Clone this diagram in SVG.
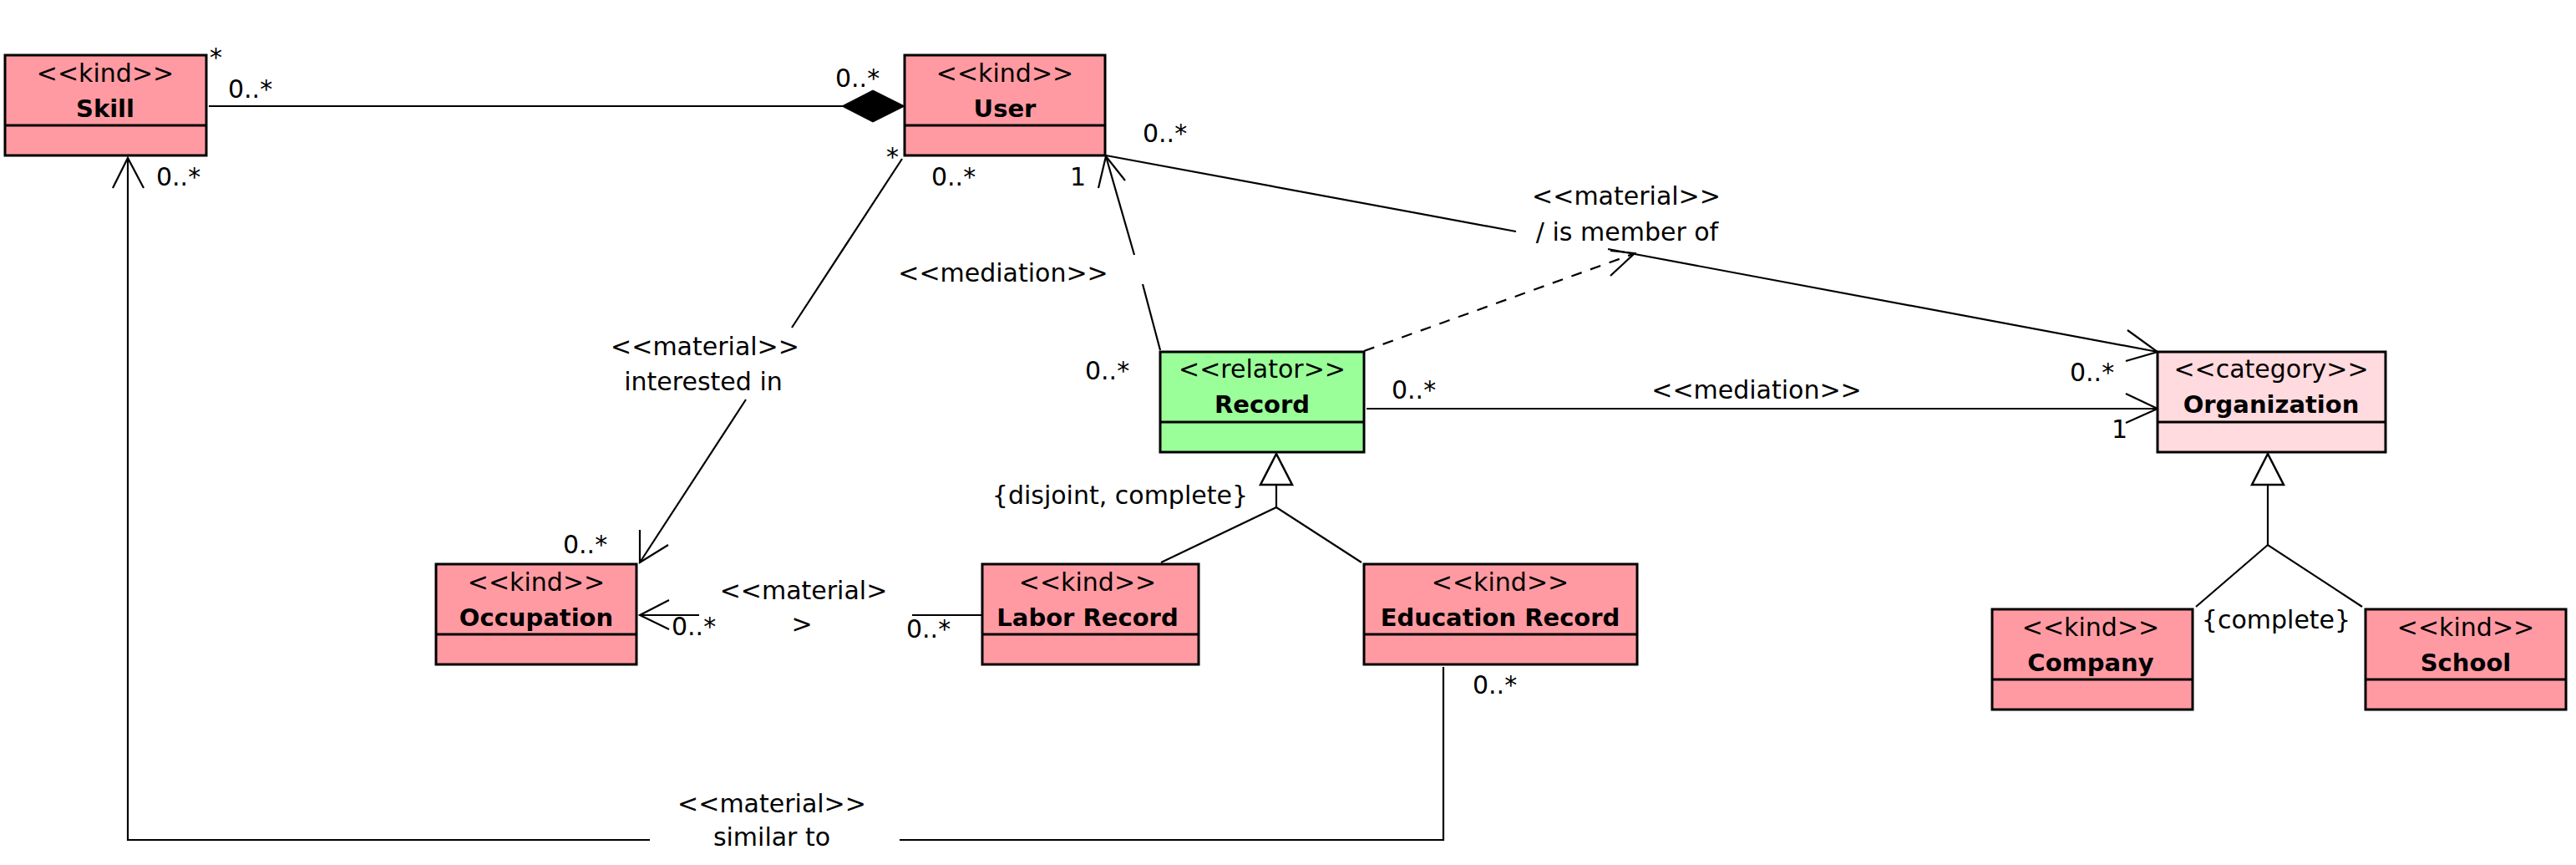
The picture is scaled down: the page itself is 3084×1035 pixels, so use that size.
<svg xmlns="http://www.w3.org/2000/svg" width="3084" height="1035" viewBox="0 0 3084 1035">
<style>
.box{stroke:#000;stroke-width:3}
.kind{fill:#FF9AA2}
.relator{fill:#9AFF99}
.category{fill:#FFDADE}
.div{stroke:#000;stroke-width:3}
.st{font-family:"DejaVu Sans",sans-serif;font-size:30px;text-anchor:middle;fill:#000}
.nm{font-family:"DejaVu Sans",sans-serif;font-size:29px;font-weight:bold;text-anchor:middle;fill:#000}
.lb{font-family:"DejaVu Sans",sans-serif;font-size:30px;fill:#000}
.lbm{font-family:"DejaVu Sans",sans-serif;font-size:30px;fill:#000;text-anchor:middle}
.ln{stroke:#000;stroke-width:2.2;fill:none}
.dash{stroke:#000;stroke-width:2.2;fill:none;stroke-dasharray:13 11}
.tri{stroke:#000;stroke-width:2.5;fill:#fff}
</style>
<rect width="3084" height="1035" fill="#fff"/>

<g id="connectors">
  <!-- Skill - User composition -->
  <line class="ln" x1="250" y1="127" x2="1010" y2="127"/>
  <polygon points="1008,127 1045,108 1083,127 1045,146" fill="#000" stroke="#000" stroke-width="1"/>
  <text class="lb" x="251" y="79">*</text>
  <text class="lb" x="273" y="117">0..*</text>
  <text class="lb" x="1000" y="104">0..*</text>

  <!-- User -> Occupation : interested in -->
  <polyline class="ln" points="1080,190 948,392"/>
  <polyline class="ln" points="893,478 766,673"/>
  <polyline class="ln" points="766,634 766,673 800,652"/>
  <text class="lb" x="1061" y="198">*</text>
  <text class="lb" x="674" y="662">0..*</text>
  <text class="lbm" x="844" y="425">&lt;&lt;material&gt;&gt;</text>
  <text class="lbm" x="842" y="467">interested in</text>

  <!-- Record -> User mediation -->
  <polyline class="ln" points="1324,187 1358,305"/>
  <polyline class="ln" points="1368,340 1389,419"/>
  <polyline class="ln" points="1315,225 1324,187 1347,216"/>
  <text class="lb" x="1115" y="222">0..*</text>
  <text class="lb" x="1281" y="222">1</text>
  <text class="lbm" x="1201" y="337">&lt;&lt;mediation&gt;&gt;</text>
  <text class="lb" x="1299" y="454">0..*</text>

  <!-- User -> Organization material -->
  <polyline class="ln" points="1324,186 1815,277"/>
  <polyline class="ln" points="1925,298 2583,421"/>
  <polyline class="ln" points="2547,395 2583,421 2545,432"/>
  <text class="lb" x="1368" y="170">0..*</text>
  <text class="lbm" x="1947" y="245">&lt;&lt;material&gt;&gt;</text>
  <text class="lbm" x="1948" y="288">/ is member of</text>
  <text class="lb" x="2478" y="456">0..*</text>

  <!-- Record - - -> association -->
  <line class="dash" x1="1633" y1="420" x2="1955" y2="304"/>
  <polyline class="ln" points="1928,300 1957,303 1928,330"/>

  <!-- Record -> Organization mediation -->
  <line class="ln" x1="1636" y1="489" x2="2583" y2="489"/>
  <polyline class="ln" points="2545,471 2583,489 2545,506"/>
  <text class="lb" x="1666" y="477">0..*</text>
  <text class="lbm" x="2103" y="477">&lt;&lt;mediation&gt;&gt;</text>
  <text class="lb" x="2528" y="524">1</text>

  <!-- Record generalization -->
  <polyline class="ln" points="1390,673 1528,607 1630,673"/>
  <line class="ln" x1="1528" y1="580" x2="1528" y2="607"/>
  <polygon class="tri" points="1528,543 1509,580 1547,580"/>
  <text class="lb" x="1494" y="603" text-anchor="end">{disjoint, complete}</text>

  <!-- Organization generalization -->
  <polyline class="ln" points="2629,726 2715,652 2828,726"/>
  <line class="ln" x1="2715" y1="580" x2="2715" y2="652"/>
  <polygon class="tri" points="2715,543 2696,580 2734,580"/>
  <text class="lbm" x="2725" y="752">{complete}</text>

  <!-- Labor Record -> Occupation material -->
  <line class="ln" x1="766" y1="736" x2="837" y2="736"/>
  <line class="ln" x1="1092" y1="736" x2="1176" y2="736"/>
  <polyline class="ln" points="801,718 766,736 801,753"/>
  <text class="lb" x="804" y="760">0..*</text>
  <text class="lbm" x="962" y="717">&lt;&lt;material&gt;</text>
  <text class="lbm" x="960" y="757">&gt;</text>
  <text class="lb" x="1085" y="763">0..*</text>

  <!-- Education Record -> Skill similar to -->
  <polyline class="ln" points="1728,798 1728,1005 1077,1005"/>
  <polyline class="ln" points="778,1005 153,1005 153,189"/>
  <polyline class="ln" points="135,225 153,189 172,225"/>
  <text class="lb" x="187" y="222">0..*</text>
  <text class="lb" x="1763" y="830">0..*</text>
  <text class="lbm" x="924" y="972">&lt;&lt;material&gt;&gt;</text>
  <text class="lbm" x="924" y="1012">similar to</text>
</g>

<g id="skill">
  <rect class="box kind" x="6" y="66" width="241" height="120"/>
  <line class="div" x1="6" y1="150" x2="247" y2="150"/>
  <text class="st" x="126" y="98">&lt;&lt;kind&gt;&gt;</text>
  <text class="nm" x="126" y="140">Skill</text>
</g>

<g id="user">
  <rect class="box kind" x="1083" y="66" width="240" height="120"/>
  <line class="div" x1="1083" y1="150" x2="1323" y2="150"/>
  <text class="st" x="1203" y="98">&lt;&lt;kind&gt;&gt;</text>
  <text class="nm" x="1203" y="140">User</text>
</g>

<g id="occupation">
  <rect class="box kind" x="522" y="675" width="240" height="120"/>
  <line class="div" x1="522" y1="759" x2="762" y2="759"/>
  <text class="st" x="642" y="707">&lt;&lt;kind&gt;&gt;</text>
  <text class="nm" x="642" y="749">Occupation</text>
</g>

<g id="labor-record">
  <rect class="box kind" x="1176" y="675" width="259" height="120"/>
  <line class="div" x1="1176" y1="759" x2="1435" y2="759"/>
  <text class="st" x="1302" y="707">&lt;&lt;kind&gt;&gt;</text>
  <text class="nm" x="1302" y="749">Labor Record</text>
</g>

<g id="education-record">
  <rect class="box kind" x="1633" y="675" width="327" height="120"/>
  <line class="div" x1="1633" y1="759" x2="1960" y2="759"/>
  <text class="st" x="1796" y="707">&lt;&lt;kind&gt;&gt;</text>
  <text class="nm" x="1796" y="749">Education Record</text>
</g>

<g id="record">
  <rect class="box relator" x="1389" y="421" width="244" height="120"/>
  <line class="div" x1="1389" y1="505" x2="1633" y2="505"/>
  <text class="st" x="1511" y="452">&lt;&lt;relator&gt;&gt;</text>
  <text class="nm" x="1511" y="494">Record</text>
</g>

<g id="organization">
  <rect class="box category" x="2583" y="421" width="273" height="120"/>
  <line class="div" x1="2583" y1="505" x2="2856" y2="505"/>
  <text class="st" x="2719" y="452">&lt;&lt;category&gt;&gt;</text>
  <text class="nm" x="2719" y="494">Organization</text>
</g>

<g id="company">
  <rect class="box kind" x="2385" y="729" width="240" height="120"/>
  <line class="div" x1="2385" y1="813" x2="2625" y2="813"/>
  <text class="st" x="2503" y="761">&lt;&lt;kind&gt;&gt;</text>
  <text class="nm" x="2503" y="803">Company</text>
</g>

<g id="school">
  <rect class="box kind" x="2832" y="729" width="240" height="120"/>
  <line class="div" x1="2832" y1="813" x2="3072" y2="813"/>
  <text class="st" x="2952" y="761">&lt;&lt;kind&gt;&gt;</text>
  <text class="nm" x="2952" y="803">School</text>
</g>
</svg>
